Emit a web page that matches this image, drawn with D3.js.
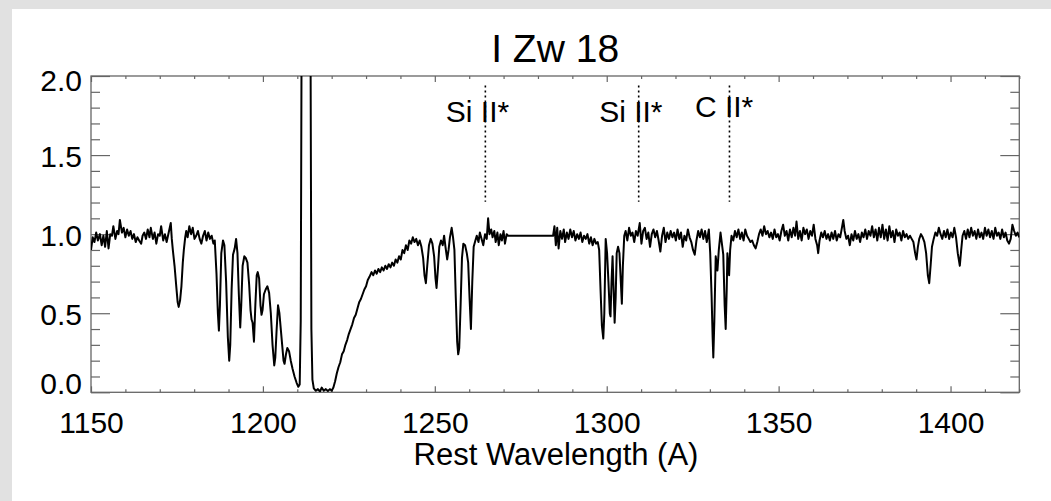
<!DOCTYPE html>
<html>
<head>
<meta charset="utf-8">
<script src="https://cdn.jsdelivr.net/npm/d3@7/dist/d3.min.js"></script>
<style>
  html, body { margin: 0; padding: 0; background: #e1e1e1; }
  svg { display: block; }
</style>
</head>
<body>
<svg id="chart" width="1051" height="501"></svg>
<script>
// ---- Spectrum of I Zw 18: rest wavelength (Angstrom), normalised flux ----
const blueContinuum = [
  [1150.0,0.90],[1150.5,0.98],[1151.0,0.95],[1151.5,1.01],[1152.0,0.96],[1152.6,1.00],[1153.1,0.93],[1153.6,0.99],
  [1154.1,0.92],[1154.6,1.02],[1155.1,0.91],[1155.6,1.00],[1156.1,0.99],[1156.5,1.05],[1157.1,0.97],[1157.6,1.02],
  [1158.0,1.00],[1158.4,1.09],[1159.0,1.01],[1159.5,1.04],[1160.0,0.98],[1160.5,1.03],[1161.0,0.99],[1161.5,1.02],
  [1162.0,0.97],[1162.5,1.00],[1163.0,0.95],[1163.5,0.98],[1164.0,0.96],[1164.6,0.94],[1165.0,0.99],[1165.5,1.01],
  [1166.0,0.97],[1166.5,1.03],[1167.0,0.98],[1167.4,1.04],[1168.0,0.97],[1168.5,1.01],[1169.0,0.94],[1169.5,1.00],
  [1170.0,0.99],[1170.4,1.05],[1171.0,0.96],[1171.5,1.00],[1172.0,0.95],[1172.6,1.01],[1173.2,1.07],[1173.5,0.97],
  [1173.8,0.90],[1174.3,0.80],[1174.8,0.67],[1175.2,0.57],[1175.5,0.54],[1175.9,0.58],[1176.3,0.67],[1176.7,0.82],
  [1177.0,0.90],[1177.4,0.98],[1177.7,1.02],[1178.1,0.98],[1178.6,1.05],[1179.1,1.00],[1179.6,1.04],[1180.1,0.97],
  [1180.6,0.99],[1181.1,1.02],[1181.6,0.97],[1182.1,0.94],[1182.6,0.99],[1183.1,1.02],[1183.6,0.96],[1184.1,1.01],
  [1184.6,0.97],[1185.1,0.99],[1185.6,0.94]
];

const lyaBlueSide = [
  [1186.0,0.96],[1186.5,0.75],[1186.9,0.50],[1187.2,0.39],[1187.5,0.55],[1187.9,0.88],[1188.4,0.96],[1188.8,0.93],
  [1189.3,0.70],[1189.8,0.35],[1190.2,0.20],[1190.5,0.30],[1190.9,0.65],[1191.3,0.87],[1191.8,0.91],[1192.2,0.97],
  [1192.6,0.88],[1193.0,0.62],[1193.4,0.41],[1193.7,0.55],[1194.1,0.80],[1194.6,0.86],[1195.0,0.85],[1195.5,0.82],
  [1196.0,0.68],[1196.4,0.52],[1196.7,0.46],[1197.0,0.44],[1197.4,0.32],[1197.8,0.55],[1198.2,0.74],[1198.5,0.76],
  [1198.9,0.72],[1199.3,0.55],[1199.6,0.49],[1199.9,0.52],[1200.3,0.62],[1200.8,0.65],[1201.3,0.67],[1201.8,0.63],
  [1202.3,0.50],[1202.8,0.30],[1203.3,0.17],[1203.6,0.22],[1204.0,0.40],[1204.4,0.55],[1204.8,0.50],[1205.2,0.40],
  [1205.6,0.30],[1206.0,0.20],[1206.3,0.18],[1206.7,0.24],[1207.1,0.28],[1207.6,0.26],[1208.1,0.20],[1208.6,0.15],
  [1209.2,0.10],[1209.8,0.06],[1210.3,0.035],[1210.7,0.05]
];

// geocoronal Ly-alpha emission, far above the plotted range
const lyaEmission = [
  [1211.0,0.45],[1211.3,2.6],[1212.5,4.0],[1213.8,2.6],[1214.1,0.40]
];

const dampedRedWing = [
  [1214.4,0.08],[1214.8,0.025],[1215.4,0.01],[1216.0,0.02],[1216.6,0.005],[1217.1,0.03],[1217.7,0.01],[1218.3,0.02],
  [1218.9,0.008],[1219.5,0.02],[1220.0,0.01],[1220.5,0.03],[1221.0,0.07],[1221.5,0.12],[1222.0,0.16],[1222.5,0.19],
  [1223.0,0.24],[1223.5,0.26],[1224.0,0.30],[1224.5,0.33],[1225.0,0.37],[1225.5,0.40],[1226.0,0.43],[1226.5,0.47],
  [1227.0,0.49],[1227.5,0.53],[1228.0,0.57],[1228.5,0.59],[1229.0,0.62],[1229.5,0.65],[1230.0,0.67],[1230.5,0.71],
  [1231.0,0.73],[1231.6,0.76],[1232.1,0.74],[1232.6,0.77],[1233.1,0.75],[1233.6,0.78],[1234.1,0.76],[1234.6,0.79],
  [1235.1,0.77],[1235.6,0.80],[1236.1,0.78],[1236.6,0.81],[1237.1,0.79],[1237.6,0.82],[1238.1,0.80],[1238.6,0.84],
  [1239.1,0.82],[1239.6,0.86],[1240.1,0.84],[1240.6,0.90],[1241.1,0.88],[1241.6,0.93],[1242.1,0.90],[1242.6,0.96],
  [1243.1,0.94],[1243.6,0.98],[1244.1,0.95],[1244.6,0.97],[1245.1,0.93],[1245.6,0.96]
];

const sulfurSiliconBand = [
  [1246.1,0.92],[1246.6,0.85],[1247.0,0.74],[1247.4,0.69],[1247.8,0.80],[1248.3,0.93],[1248.8,0.97],[1249.3,0.94],
  [1249.8,0.86],[1250.2,0.72],[1250.5,0.66],[1250.9,0.78],[1251.3,0.92],[1251.8,0.96],[1252.3,0.93],[1252.7,0.99],
  [1253.1,0.92],[1253.6,0.84],[1254.0,0.90],[1254.4,0.98],[1254.9,1.04],[1255.3,0.98],[1255.7,0.90],[1256.1,0.60],
  [1256.5,0.32],[1256.8,0.24],[1257.1,0.28],[1257.5,0.55],[1257.9,0.85],[1258.3,0.94],[1258.8,0.93],[1259.3,0.88],
  [1259.7,0.82],[1260.1,0.60],[1260.5,0.40],[1260.9,0.70],[1261.3,0.92],[1261.8,0.96],[1262.2,0.99],[1262.7,0.95],
  [1263.1,1.01],[1263.6,0.97],[1264.1,0.93],[1264.6,1.00],[1265.1,0.97],[1265.5,1.10],[1265.9,1.00],[1266.4,1.03],
  [1266.8,0.98],[1267.3,1.02],[1267.7,0.95],[1268.2,1.01],[1268.6,0.93],[1269.1,1.00],[1269.5,0.96],[1270.0,1.02],
  [1270.4,0.94],[1270.9,1.00],[1271.3,0.99]
];

// after the detector gap (bridged by a straight segment)
const oxygenBand = [
  [1284.4,0.99],[1284.8,1.05],[1285.2,0.93],[1285.6,1.04],[1286.0,0.91],[1286.5,1.02],[1287.0,0.97],[1287.5,1.03],
  [1287.9,0.95],[1288.4,1.01],[1288.9,0.97],[1289.4,1.03],[1289.9,0.98],[1290.4,1.02],[1290.9,0.96],[1291.4,1.00],
  [1291.9,0.97],[1292.4,1.01],[1292.9,0.95],[1293.4,0.99],[1293.9,0.97],[1294.4,1.00],[1294.9,0.94],[1295.4,0.98],
  [1295.9,0.93],[1296.4,0.97],[1296.9,0.94],[1297.4,0.95],[1297.8,0.90],[1298.2,0.65],[1298.6,0.42],[1299.0,0.34],
  [1299.3,0.50],[1299.7,0.97],[1300.1,0.88],[1300.5,0.70],[1300.9,0.50],[1301.1,0.48],[1301.4,0.70],[1301.7,0.86],
  [1302.0,0.65],[1302.3,0.44],[1302.6,0.60],[1302.9,0.88],[1303.3,0.92],[1303.7,0.88],[1304.1,0.70],[1304.4,0.56],
  [1304.7,0.80],[1305.1,0.99]
];

const carbonBand = [
  [1305.5,1.02],[1306.0,0.96],[1306.5,1.04],[1307.0,0.99],[1307.5,1.01],[1308.0,0.95],[1308.5,1.02],[1309.0,0.99],
  [1309.6,1.07],[1310.1,0.94],[1310.6,1.02],[1311.1,1.04],[1311.6,0.97],[1312.1,1.01],[1312.6,0.92],[1313.1,1.00],
  [1313.6,1.03],[1314.1,0.98],[1314.6,1.02],[1315.1,0.96],[1315.6,0.89],[1316.1,0.99],[1316.6,1.04],[1317.1,0.95],
  [1317.6,1.01],[1318.1,0.97],[1318.6,1.02],[1319.1,0.98],[1319.6,1.01],[1320.1,0.96],[1320.6,1.03],[1321.1,0.97],
  [1321.6,1.01],[1322.1,0.92],[1322.6,0.99],[1323.1,0.96],[1323.6,1.03],[1324.1,0.98],[1324.6,0.95],[1325.1,0.90],
  [1325.6,0.87],[1326.1,0.96],[1326.6,1.02],[1327.1,0.98],[1327.6,1.03],[1328.1,0.97],[1328.6,1.02],[1329.1,0.95],
  [1329.7,1.03],[1330.1,0.88],[1330.5,0.61],[1330.8,0.35],[1331.0,0.22],[1331.3,0.45],[1331.7,0.86],[1332.2,0.77],
  [1332.6,0.90],[1333.1,1.01],[1333.5,0.94],[1333.9,0.87],[1334.3,0.55],[1334.6,0.40],[1334.9,0.65],[1335.1,0.88],
  [1335.6,0.74],[1335.9,0.90],[1336.3,0.99]
];

const redContinuum = [
  [1336.8,0.96],[1337.3,1.02],[1337.8,0.98],[1338.3,1.03],[1338.8,0.97],[1339.3,1.01],[1339.8,0.96],[1340.3,1.03],
  [1340.8,0.99],[1341.3,0.97],[1341.8,0.95],[1342.3,0.96],[1342.8,0.93],[1343.3,0.91],[1343.8,0.95],[1344.3,1.00],
  [1344.8,1.03],[1345.3,0.99],[1345.8,1.05],[1346.3,1.00],[1346.8,1.02],[1347.3,0.98],[1347.8,1.01],[1348.3,0.97],
  [1348.8,1.03],[1349.3,0.98],[1349.8,1.00],[1350.3,0.96],[1350.8,1.02],[1351.3,1.06],[1351.8,0.99],[1352.3,1.02],
  [1352.8,0.96],[1353.3,1.03],[1353.8,0.98],[1354.3,1.04],[1354.8,0.99],[1355.2,1.08],[1355.7,0.97],[1356.2,1.02],
  [1356.7,0.96],[1357.2,1.04],[1357.7,1.00],[1358.2,1.03],[1358.7,0.97],[1359.2,1.02],[1359.7,0.99],[1360.2,1.06],
  [1360.7,0.97],[1361.2,0.93],[1361.5,0.88],[1361.9,0.96],[1362.4,1.01],[1362.9,0.98],[1363.4,1.02],[1363.9,0.97],
  [1364.4,1.00],[1364.9,0.96],[1365.4,1.01],[1365.9,0.97],[1366.4,1.02],[1366.9,0.96],[1367.4,1.00],[1367.9,0.98],
  [1368.4,1.04],[1368.8,1.09],[1369.2,1.02],[1369.7,0.97],[1370.2,0.99],[1370.7,0.93],[1371.2,1.00],[1371.7,0.96],
  [1372.2,1.02],[1372.7,0.97],[1373.2,1.00],[1373.7,0.95],[1374.2,1.01],[1374.7,0.98],[1375.2,1.03],[1375.7,0.97],
  [1376.2,1.02],[1376.7,0.99],[1377.2,1.05],[1377.7,0.98],[1378.2,1.03],[1378.7,0.96],[1379.2,1.04],[1379.7,0.98],
  [1380.2,1.06],[1380.7,0.97],[1381.2,1.03],[1381.7,0.96],[1382.2,1.05],[1382.7,0.98],[1383.2,1.02],[1383.7,0.95],
  [1384.2,1.03],[1384.7,0.99],[1385.2,1.01],[1385.7,0.96],[1386.2,1.02],[1386.7,0.98],[1387.2,1.00],[1387.7,0.97],
  [1388.2,0.99],[1388.7,0.97],[1389.2,0.95],[1389.7,0.88],[1390.1,0.84],[1390.5,0.92],[1390.9,0.97],[1391.4,1.00],
  [1391.9,0.98],[1392.4,0.95],[1392.9,0.88],[1393.4,0.74],[1393.8,0.69],[1394.2,0.80],[1394.6,0.92],[1395.1,0.97],
  [1395.6,1.01],[1396.1,0.99],[1396.6,1.04],[1397.1,1.00],[1397.6,0.97],[1398.1,1.02],[1398.6,0.98],[1399.1,1.03],
  [1399.6,0.97],[1400.1,1.01],[1400.6,0.98],[1401.1,1.04],[1401.6,0.98],[1402.1,0.88],[1402.7,0.80],[1403.1,0.90],
  [1403.5,0.99],[1404.0,1.02],[1404.5,0.97],[1405.0,1.03],[1405.5,0.98],[1406.0,1.04],[1406.5,0.99],[1407.0,1.02],
  [1407.5,0.97],[1408.0,1.03],[1408.5,0.98],[1409.0,1.01],[1409.5,0.97],[1410.0,1.04],[1410.5,0.99],[1411.0,1.03],
  [1411.5,0.98],[1412.0,1.02],[1412.5,0.97],[1413.0,1.04],[1413.5,0.99],[1414.0,1.01],[1414.5,0.97],[1415.0,1.03],
  [1415.5,0.98],[1416.0,1.01],[1416.5,0.96],[1417.0,0.94],[1417.5,0.97],[1418.0,1.06],[1418.5,1.02],[1419.0,0.99],
  [1419.5,1.01],[1420.0,0.98]
];

// fine-structure lines marked with dotted guides
const markerIons = ["Si II*", "Si II*", "C II*"];
const markerWaves = [1264.7, 1309.3, 1335.7];

// axis ticks
const xMajorTicks = [1150, 1200, 1250, 1300, 1350, 1400];
const xMinorTicks = d3.range(1150, 1421, 10).filter(v => v % 50 !== 0);
const yMajorTicks = [0.0, 0.5, 1.0, 1.5, 2.0];
const yMinorTicks = [0.1,0.2,0.3,0.4,0.6,0.7,0.8,0.9,1.1,1.2,1.3,1.4,1.6,1.7,1.8,1.9];

const chartTitle = "I Zw 18";
const xTitle = "Rest Wavelength (A)";

// ---- drawing ----
const spectrum = [].concat(blueContinuum, lyaBlueSide, lyaEmission, dampedRedWing,
                           sulfurSiliconBand, oxygenBand, carbonBand, redContinuum);

const W = 1051, H = 501;
const plot = { left: 91, top: 76, right: 1019.3, bottom: 392.3 };
const FONT = '"Liberation Sans", Arial, Helvetica, sans-serif';
const AXIS_COLOR = "#666";

const svg = d3.select("#chart");
svg.append("rect").attr("width", W).attr("height", H).attr("fill", "#e1e1e1");
svg.append("rect").attr("x", 12).attr("y", 9).attr("width", W - 12).attr("height", H - 9).attr("fill", "#fff");

const x = d3.scaleLinear().domain([1150, 1420]).range([plot.left, plot.right]);
const y = d3.scaleLinear().domain([0, 2]).range([plot.bottom, plot.top]);

svg.append("defs").append("clipPath").attr("id", "plot-clip")
  .append("rect")
  .attr("x", plot.left).attr("y", plot.top)
  .attr("width", plot.right - plot.left).attr("height", plot.bottom - plot.top);

// tick marks on all four sides, pointing inward
function tickAxis(axis, transform) {
  const g = svg.append("g")
    .attr("transform", transform)
    .call(axis);
  g.attr("color", AXIS_COLOR)
   .attr("font-family", FONT)
   .attr("font-size", 30);
  g.select(".domain").remove();
  g.selectAll(".tick line").attr("stroke-width", 1.2);
  g.selectAll(".tick text").attr("fill", "#000");
  return g;
}

tickAxis(d3.axisBottom(x).tickValues(xMinorTicks).tickSizeInner(-3).tickSizeOuter(0).tickFormat(""),
         `translate(0,${plot.bottom})`);
tickAxis(d3.axisTop(x).tickValues(xMinorTicks).tickSizeInner(-3).tickSizeOuter(0).tickFormat(""),
         `translate(0,${plot.top})`);
tickAxis(d3.axisTop(x).tickValues(xMajorTicks).tickSizeInner(-6).tickSizeOuter(0).tickFormat(""),
         `translate(0,${plot.top})`);
tickAxis(d3.axisBottom(x).tickValues(xMajorTicks).tickSizeInner(-6).tickSizeOuter(0)
           .tickPadding(19.7).tickFormat(d3.format("d")),
         `translate(0,${plot.bottom})`);

tickAxis(d3.axisLeft(y).tickValues(yMinorTicks).tickSizeInner(-9).tickSizeOuter(0).tickFormat(""),
         `translate(${plot.left},0)`);
tickAxis(d3.axisRight(y).tickValues(yMinorTicks).tickSizeInner(-9).tickSizeOuter(0).tickFormat(""),
         `translate(${plot.right},0)`);
tickAxis(d3.axisRight(y).tickValues(yMajorTicks).tickSizeInner(-19).tickSizeOuter(0).tickFormat(""),
         `translate(${plot.right},0)`);
const yLabels = tickAxis(d3.axisLeft(y).tickValues(yMajorTicks).tickSizeInner(-19).tickSizeOuter(0)
           .tickPadding(9).tickFormat(d3.format(".1f")),
         `translate(${plot.left},0)`);
// end labels are nudged inside the frame
yLabels.selectAll(".tick text")
  .attr("dy", null)
  .attr("y", d => d === 0 ? 1 : d === 2 ? 14.7 : 11.5);

// frame
svg.append("rect")
  .attr("x", plot.left).attr("y", plot.top)
  .attr("width", plot.right - plot.left).attr("height", plot.bottom - plot.top)
  .attr("fill", "none").attr("stroke", AXIS_COLOR).attr("stroke-width", 1.3);

// spectrum
const line = d3.line().x(d => x(d[0])).y(d => y(d[1]));
svg.append("path")
  .datum(spectrum)
  .attr("clip-path", "url(#plot-clip)")
  .attr("d", line)
  .attr("fill", "none")
  .attr("stroke", "#000")
  .attr("stroke-width", 2)
  .attr("stroke-linejoin", "round");

// dotted line markers with labels
const markers = markerWaves.map((w, i) => ({ wave: w, ion: markerIons[i] }));
const markerTop = 1.94, markerBottom = 1.205;
const mg = svg.append("g");
mg.selectAll("line").data(markers).join("line")
  .attr("x1", d => x(d.wave)).attr("x2", d => x(d.wave))
  .attr("y1", y(markerTop)).attr("y2", y(markerBottom))
  .attr("stroke", "#000").attr("stroke-width", 1.6)
  .attr("stroke-dasharray", "2,3");

const labelFlux = d => d.ion.startsWith("C") ? 1.74 : 1.71;
mg.selectAll("text.elem").data(markers).join("text")
  .attr("class", "elem")
  .attr("x", d => x(d.wave) - 12.8)
  .attr("y", d => y(labelFlux(d)))
  .attr("text-anchor", "end")
  .attr("font-family", FONT).attr("font-size", 30)
  .text(d => d.ion.split(" ")[0]);
mg.selectAll("text.stage").data(markers).join("text")
  .attr("class", "stage")
  .attr("x", d => x(d.wave) - 4.5)
  .attr("y", d => y(labelFlux(d)))
  .attr("text-anchor", "start")
  .attr("font-family", FONT).attr("font-size", 30)
  .text(d => d.ion.split(" ")[1]);

// titles
svg.append("text")
  .attr("x", (plot.left + plot.right) / 2).attr("y", 62.3)
  .attr("text-anchor", "middle")
  .attr("font-family", FONT).attr("font-size", 39)
  .text(chartTitle);

svg.append("text")
  .attr("x", 556).attr("y", 465)
  .attr("text-anchor", "middle")
  .attr("font-family", FONT).attr("font-size", 31)
  .text(xTitle);
</script>
</body>
</html>
